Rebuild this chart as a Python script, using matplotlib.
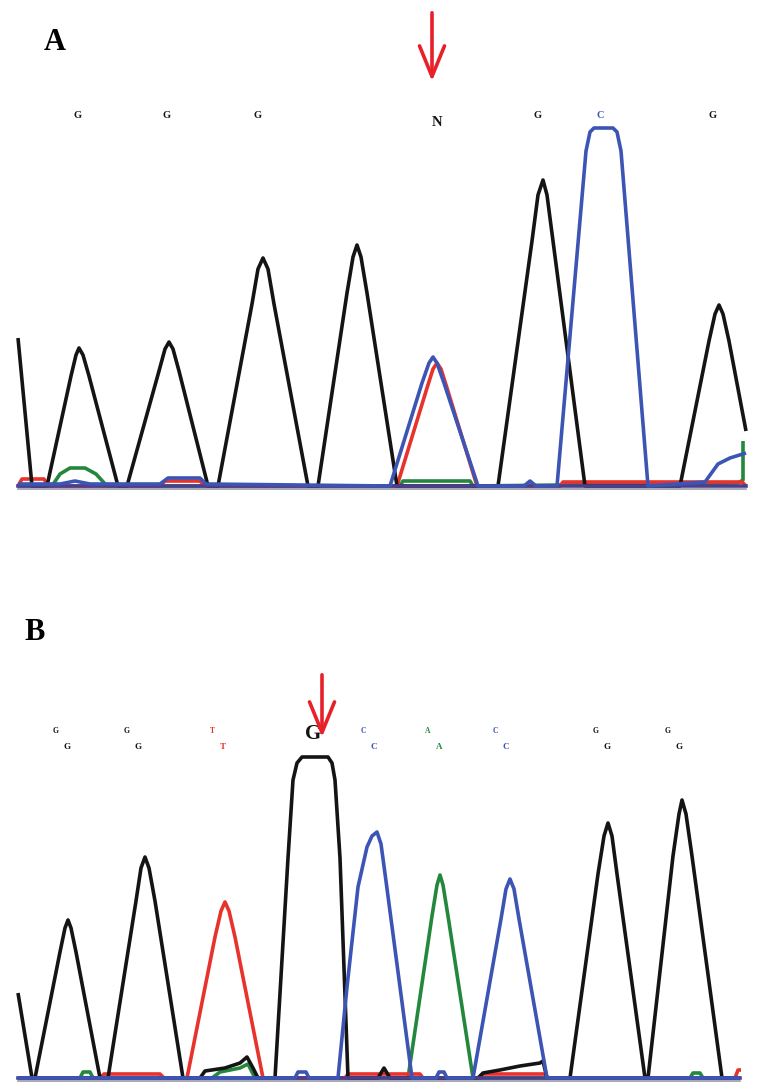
import matplotlib.pyplot as plt
from matplotlib.patches import FancyArrowPatch

# chromatogram traces: (scan position px, signal height px above baseline)
base_a = 486
base_b = 1078

a_black = [(18, 148), (32, 0), (47, 0),
           (71, 110), (76, 131), (79, 138), (83, 131), (89, 110), (118, 0),
           (127, 0), (159, 115), (165, 137), (169, 144), (173, 137), (179, 115), (208, 0),
           (218, 0), (252, 182), (258, 217), (263, 228), (268, 217), (274, 182), (308, 0),
           (318, 0), (347, 193), (353, 229), (357, 241), (361, 229), (367, 193), (397, 0),
           (498, 0), (532, 245), (538, 291), (543, 306), (547, 291), (553, 245), (585, 0),
           (680, 0), (709, 145), (715, 172), (719, 181), (723, 172), (729, 145), (746, 55)]
a_blue = [(18, 2), (60, 2), (75, 5), (90, 2), (160, 2), (168, 8), (200, 8), (206, 2), (390, 0),
          (422, 103), (429, 123), (433, 129), (437, 123), (444, 103), (478, 0),
          (524, 0), (530, 5), (536, 0), (557, 0),
          (586, 335), (590, 354), (594, 358), (613, 358), (617, 354), (621, 335), (648, 0),
          (705, 4), (718, 22), (730, 28), (746, 33)]
a_red = [(18, 0), (22, 7), (44, 7), (48, 0), (160, 0), (165, 5), (200, 5), (205, 0), (397, 0),
         (427, 98), (433, 117), (437, 123), (441, 117), (447, 98), (477, 0),
         (560, 0), (563, 4), (742, 4), (746, 0)]
a_green = [(18, 0), (52, 0), (60, 12), (70, 18), (85, 18), (96, 12), (107, 0),
           (400, 0), (403, 5), (470, 5), (473, 0), (738, 3), (743, 6), (743, 45)]

b_black = [(18, 85), (32, 0), (35, 0),
           (60, 126), (65, 150), (68, 158), (71, 150), (76, 126), (100, 0),
           (108, 0), (136, 177), (141, 210), (145, 221), (149, 210), (155, 177), (183, 0),
           (200, 0), (205, 7), (225, 10), (240, 15), (247, 21), (253, 10), (258, 0),
           (275, 0), (288, 220), (293, 298), (297, 315), (302, 321), (328, 321), (332, 315), (335, 298), (340, 220), (348, 0),
           (378, 0), (384, 10), (390, 0), (478, 0), (483, 5), (500, 8), (520, 12), (540, 15), (543, 17), (547, 0),
           (570, 0), (598, 204), (604, 242), (608, 255), (612, 242), (617, 204), (645, 0),
           (648, 0), (673, 222), (679, 264), (682, 278), (686, 264), (692, 222), (722, 0),
           (740, 0)]
b_red = [(18, 0), (100, 0), (104, 4), (160, 4), (164, 0), (187, 0),
         (215, 141), (221, 167), (225, 176), (229, 167), (235, 141), (263, 0),
         (345, 0), (348, 4), (420, 4), (423, 0), (480, 0), (483, 4), (545, 4), (548, 0),
         (735, 0), (738, 8), (741, 8)]
b_blue = [(18, 0), (295, 0), (298, 6), (306, 6), (309, 0), (338, 0),
          (347, 91), (358, 191), (367, 231), (372, 242), (377, 246), (381, 234), (386, 197), (412, 0),
          (436, 0), (439, 6), (444, 6), (447, 0), (473, 0),
          (501, 159), (506, 189), (510, 199), (514, 189), (519, 159), (547, 0),
          (740, 0)]
b_green = [(18, 0), (80, 0), (83, 6), (90, 6), (93, 0), (212, 0), (220, 6), (240, 10), (248, 14), (255, 0),
           (408, 0), (432, 162), (437, 193), (440, 203), (443, 193), (448, 162), (473, 0),
           (690, 0), (693, 5), (700, 5), (703, 0), (740, 0)]

# base calls
a_calls = ['G', 'G', 'G', 'N', 'G', 'C', 'G']
a_call_x = [78, 167, 258, 437, 538, 600, 713]
a_call_col = ['k', 'k', 'k', 'k', 'k', 'blue', 'k']

b_calls = ['G', 'G', 'T', 'G', 'C', 'A', 'C', 'G', 'G']
b_call_x = [62, 133, 218, 313, 369, 434, 501, 602, 674]
b_call_col = ['k', 'k', 'red', 'k', 'blue', 'green', 'blue', 'k', 'k']

BLACK = '#141414'
BLUE = '#3c55b4'
RED = '#e8322c'
GREEN = '#23883c'
BASE = '#4a3f8e'
cols = {'k': BLACK, 'blue': BLUE, 'red': RED, 'green': GREEN}

W, H = 767, 1089
fig = plt.figure(figsize=(W / 100, H / 100), dpi=100)
ax = fig.add_axes([0, 0, 1, 1])
ax.set_xlim(0, W)
ax.set_ylim(H, 0)
ax.axis('off')


def trace(pts, base, color, z):
    xs = [p[0] for p in pts]
    ys = [base - p[1] for p in pts]
    ax.plot(xs, ys, color=color, lw=2.6, solid_joinstyle='round', solid_capstyle='butt', zorder=z)


for base, x1, x2, tr in [(base_a, 18, 746, (a_green, a_red, a_black, a_blue)),
                         (base_b, 18, 740, (b_green, b_red, b_black, b_blue))]:
    g, r, k, b = tr
    ax.plot([x1, x2], [base + 3, base + 3], color='#9a9aa8', lw=1.2, zorder=1)
    trace(g, base, GREEN, 2)
    trace(r, base, RED, 3)
    trace(k, base, BLACK, 4)
    ax.plot([x1, x2], [base, base], color=BASE, lw=2.6, zorder=5)
    trace(b, base, BLUE, 6)

serif = 'Liberation Serif'
ax.text(55, 42, 'A', fontsize=22, fontweight='bold', family=serif, ha='center', va='center')
ax.text(35, 633, 'B', fontsize=22, fontweight='bold', family=serif, ha='center', va='center')

for c, x, col in zip(a_calls, a_call_x, a_call_col):
    if c == 'N':
        ax.text(x, 123, c, fontsize=10.5, fontweight='bold', family=serif, ha='center', va='center', color=cols[col])
    else:
        ax.text(x, 116, c, fontsize=7.5, fontweight='bold', family=serif, ha='center', va='center', color=cols[col])

for i, (c, x, col) in enumerate(zip(b_calls, b_call_x, b_call_col)):
    if i == 3:
        ax.text(x, 734, c, fontsize=15, fontweight='bold', family=serif, ha='center', va='center', color=BLACK)
    else:
        ax.text(x - 6, 731, c, fontsize=5.5, fontweight='bold', family=serif, ha='center', va='center', color=cols[col])
        ax.text(x + 5, 747, c, fontsize=6.5, fontweight='bold', family=serif, ha='center', va='center', color=cols[col])

for x, y0, y1 in [(432, 10, 84), (322, 672, 740)]:
    arr = FancyArrowPatch((x, y0), (x, y1), arrowstyle='->,head_length=1.1,head_width=0.45',
                          mutation_scale=20, color='#e8202a', lw=2.6, zorder=7)
    ax.add_patch(arr)

fig.savefig('out.png', dpi=100, facecolor='white')
